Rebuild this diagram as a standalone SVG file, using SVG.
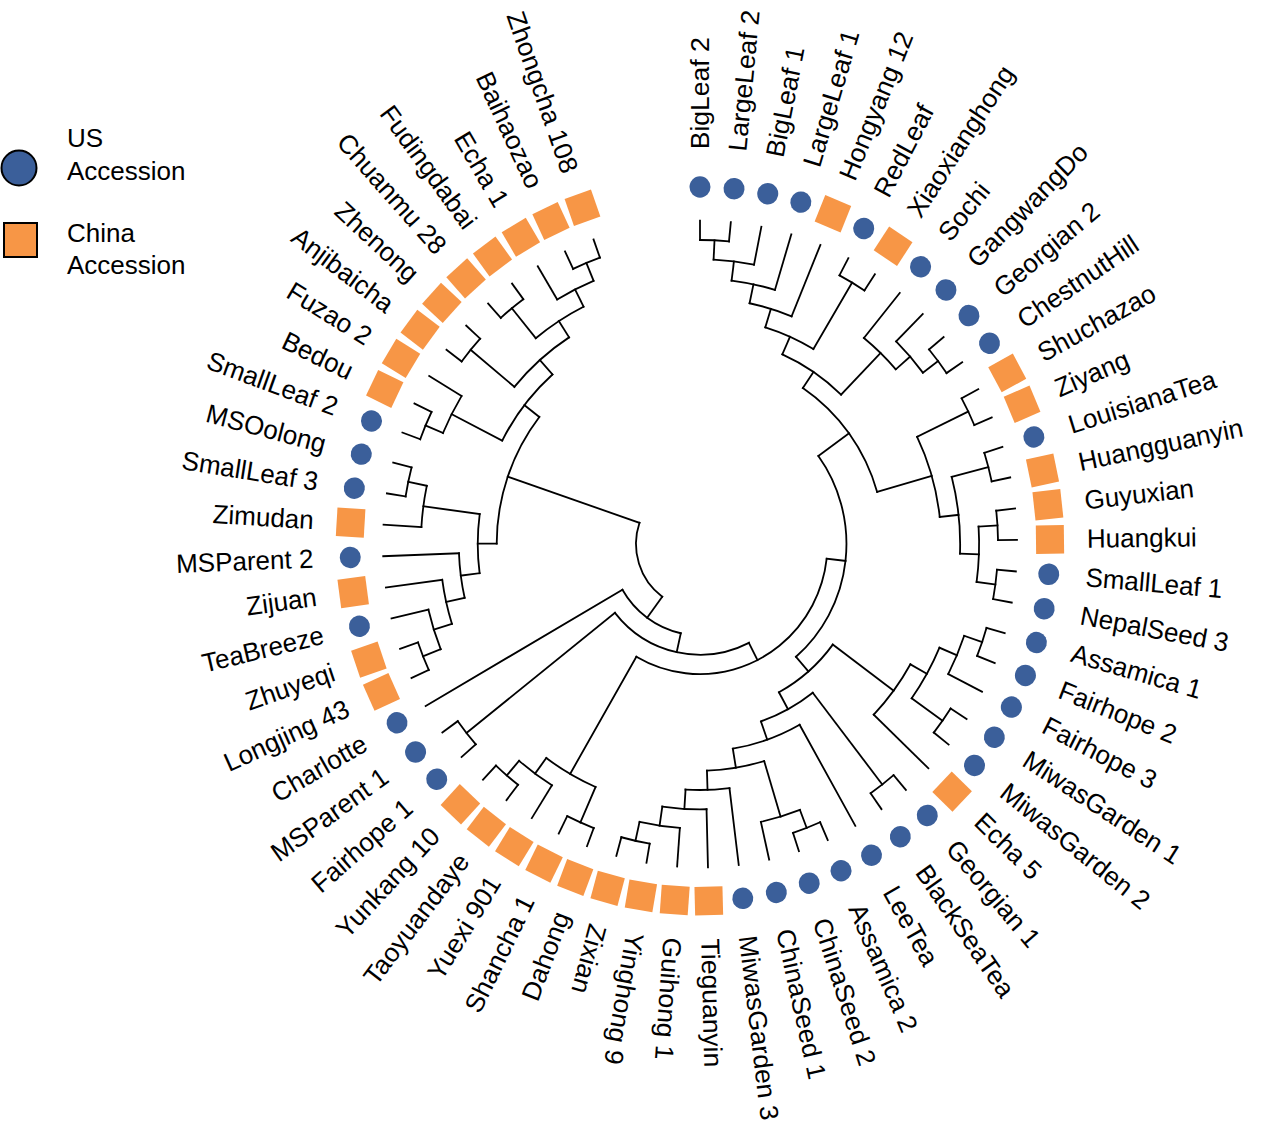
<svg xmlns="http://www.w3.org/2000/svg" width="1264" height="1142" viewBox="0 0 1264 1142">
<style>
.t{font-family:"Liberation Sans",Arial,sans-serif;font-size:26px;fill:#000}
#tree{stroke:#000;stroke-width:1.8;fill:none;stroke-linecap:square}
</style>
<defs>
<circle id="c" r="10.5" fill="#3B5F9A"/>
<rect id="s" x="-14" y="-14" width="28" height="28" fill="#F79646"/>
</defs>
<rect width="1264" height="1142" fill="#fff"/>
<g id="legend">
<circle cx="19" cy="168" r="17.5" fill="#3B5F9A" stroke="#000" stroke-width="2"/>
<text class="t" x="67" y="147">US</text>
<text class="t" x="67" y="180">Accession</text>
<rect x="4" y="223" width="33" height="34" fill="#F79646" stroke="#000" stroke-width="2"/>
<text class="t" x="67" y="242">China</text>
<text class="t" x="67" y="274">Accession</text>
</g>
<g transform="translate(700 544) scale(1 1.02)">
<g id="tree">
<circle r="64" pathLength="360" stroke-dasharray="72.78 720" transform="rotate(126.17)"/>
<path d="M0-64V-89.6" transform="rotate(216.17)"/>
<circle r="89.6" pathLength="360" stroke-dasharray="47.55 720" transform="rotate(102.39)"/>
<path d="M0-89.6V-317" transform="rotate(239.94)"/>
<path d="M0-89.6V-108.55" transform="rotate(192.39)"/>
<circle r="108.55" pathLength="360" stroke-dasharray="78.35 720" transform="rotate(63.22)"/>
<path d="M0-108.55V-298.05" transform="rotate(231.57)"/>
<circle r="298.05" pathLength="360" stroke-dasharray="5.58 720" transform="rotate(138.78)"/>
<path d="M0-298.05V-317" transform="rotate(228.78)"/>
<path d="M0-298.05V-317" transform="rotate(234.36)"/>
<path d="M0-108.55V-127.5" transform="rotate(153.22)"/>
<circle r="127.5" pathLength="360" stroke-dasharray="113.46 720" transform="rotate(6.49)"/>
<path d="M0-127.5V-260.15" transform="rotate(209.95)"/>
<circle r="260.15" pathLength="360" stroke-dasharray="12.56 720" transform="rotate(113.67)"/>
<path d="M0-260.15V-298.05" transform="rotate(203.67)"/>
<circle r="298.05" pathLength="360" stroke-dasharray="5.58 720" transform="rotate(110.88)"/>
<path d="M0-298.05V-317" transform="rotate(200.88)"/>
<path d="M0-298.05V-317" transform="rotate(206.46)"/>
<path d="M0-260.15V-279.1" transform="rotate(216.23)"/>
<circle r="279.1" pathLength="360" stroke-dasharray="8.37 720" transform="rotate(122.04)"/>
<path d="M0-279.1V-317" transform="rotate(212.04)"/>
<path d="M0-279.1V-298.05" transform="rotate(220.41)"/>
<circle r="298.05" pathLength="360" stroke-dasharray="5.58 720" transform="rotate(127.62)"/>
<path d="M0-298.05V-317" transform="rotate(217.62)"/>
<path d="M0-298.05V-317" transform="rotate(223.2)"/>
<path d="M0-127.5V-146.45" transform="rotate(96.49)"/>
<circle r="146.45" pathLength="360" stroke-dasharray="85.11 720" transform="rotate(-36.07)"/>
<path d="M0-146.45V-184.35" transform="rotate(53.93)"/>
<circle r="184.35" pathLength="360" stroke-dasharray="40.02 720" transform="rotate(-56.08)"/>
<path d="M0-184.35V-203.3" transform="rotate(33.92)"/>
<circle r="203.3" pathLength="360" stroke-dasharray="20.05 720" transform="rotate(-66.11)"/>
<path d="M0-203.3V-222.25" transform="rotate(23.89)"/>
<circle r="222.25" pathLength="360" stroke-dasharray="13.6 720" transform="rotate(-72.91)"/>
<path d="M0-222.25V-241.2" transform="rotate(17.09)"/>
<circle r="241.2" pathLength="360" stroke-dasharray="10.46 720" transform="rotate(-78.14)"/>
<path d="M0-241.2V-317" transform="rotate(22.32)"/>
<path d="M0-241.2V-260.15" transform="rotate(11.86)"/>
<circle r="260.15" pathLength="360" stroke-dasharray="9.77 720" transform="rotate(-83.03)"/>
<path d="M0-260.15V-317" transform="rotate(16.74)"/>
<path d="M0-260.15V-279.1" transform="rotate(6.98)"/>
<circle r="279.1" pathLength="360" stroke-dasharray="8.37 720" transform="rotate(-87.21)"/>
<path d="M0-279.1V-317" transform="rotate(11.16)"/>
<path d="M0-279.1V-298.05" transform="rotate(2.79)"/>
<circle r="298.05" pathLength="360" stroke-dasharray="5.58 720" transform="rotate(-90)"/>
<path d="M0-298.05V-317" transform="rotate(0)"/>
<path d="M0-298.05V-317" transform="rotate(5.58)"/>
<path d="M0-222.25V-298.05" transform="rotate(30.69)"/>
<circle r="298.05" pathLength="360" stroke-dasharray="5.58 720" transform="rotate(-62.1)"/>
<path d="M0-298.05V-317" transform="rotate(27.9)"/>
<path d="M0-298.05V-317" transform="rotate(33.48)"/>
<path d="M0-203.3V-260.15" transform="rotate(43.94)"/>
<circle r="260.15" pathLength="360" stroke-dasharray="9.77 720" transform="rotate(-50.94)"/>
<path d="M0-260.15V-317" transform="rotate(39.06)"/>
<path d="M0-260.15V-279.1" transform="rotate(48.83)"/>
<circle r="279.1" pathLength="360" stroke-dasharray="8.37 720" transform="rotate(-45.36)"/>
<path d="M0-279.1V-317" transform="rotate(44.64)"/>
<path d="M0-279.1V-298.05" transform="rotate(53.01)"/>
<circle r="298.05" pathLength="360" stroke-dasharray="5.58 720" transform="rotate(-39.78)"/>
<path d="M0-298.05V-317" transform="rotate(50.22)"/>
<path d="M0-298.05V-317" transform="rotate(55.8)"/>
<path d="M0-184.35V-241.2" transform="rotate(73.94)"/>
<circle r="241.2" pathLength="360" stroke-dasharray="19.53 720" transform="rotate(-25.83)"/>
<path d="M0-241.2V-298.05" transform="rotate(64.17)"/>
<circle r="298.05" pathLength="360" stroke-dasharray="5.58 720" transform="rotate(-28.62)"/>
<path d="M0-298.05V-317" transform="rotate(61.38)"/>
<path d="M0-298.05V-317" transform="rotate(66.96)"/>
<path d="M0-241.2V-260.15" transform="rotate(83.7)"/>
<circle r="260.15" pathLength="360" stroke-dasharray="16.74 720" transform="rotate(-14.67)"/>
<path d="M0-260.15V-298.05" transform="rotate(75.33)"/>
<circle r="298.05" pathLength="360" stroke-dasharray="5.58 720" transform="rotate(-17.46)"/>
<path d="M0-298.05V-317" transform="rotate(72.54)"/>
<path d="M0-298.05V-317" transform="rotate(78.12)"/>
<path d="M0-260.15V-279.1" transform="rotate(92.07)"/>
<circle r="279.1" pathLength="360" stroke-dasharray="11.16 720" transform="rotate(-3.51)"/>
<path d="M0-279.1V-298.05" transform="rotate(86.49)"/>
<circle r="298.05" pathLength="360" stroke-dasharray="5.58 720" transform="rotate(-6.3)"/>
<path d="M0-298.05V-317" transform="rotate(83.7)"/>
<path d="M0-298.05V-317" transform="rotate(89.28)"/>
<path d="M0-279.1V-298.05" transform="rotate(97.65)"/>
<circle r="298.05" pathLength="360" stroke-dasharray="5.58 720" transform="rotate(4.86)"/>
<path d="M0-298.05V-317" transform="rotate(94.86)"/>
<path d="M0-298.05V-317" transform="rotate(100.44)"/>
<path d="M0-146.45V-165.4" transform="rotate(139.04)"/>
<circle r="165.4" pathLength="360" stroke-dasharray="24.89 720" transform="rotate(36.6)"/>
<path d="M0-165.4V-241.2" transform="rotate(126.6)"/>
<circle r="241.2" pathLength="360" stroke-dasharray="14.65 720" transform="rotate(29.27)"/>
<path d="M0-241.2V-317" transform="rotate(133.92)"/>
<path d="M0-241.2V-260.15" transform="rotate(119.27)"/>
<circle r="260.15" pathLength="360" stroke-dasharray="12.56 720" transform="rotate(23)"/>
<path d="M0-260.15V-279.1" transform="rotate(113)"/>
<circle r="279.1" pathLength="360" stroke-dasharray="8.37 720" transform="rotate(18.81)"/>
<path d="M0-279.1V-317" transform="rotate(117.18)"/>
<path d="M0-279.1V-298.05" transform="rotate(108.81)"/>
<circle r="298.05" pathLength="360" stroke-dasharray="5.58 720" transform="rotate(16.02)"/>
<path d="M0-298.05V-317" transform="rotate(106.02)"/>
<path d="M0-298.05V-317" transform="rotate(111.6)"/>
<path d="M0-260.15V-298.05" transform="rotate(125.55)"/>
<circle r="298.05" pathLength="360" stroke-dasharray="5.58 720" transform="rotate(32.76)"/>
<path d="M0-298.05V-317" transform="rotate(122.76)"/>
<path d="M0-298.05V-317" transform="rotate(128.34)"/>
<path d="M0-165.4V-184.35" transform="rotate(151.49)"/>
<circle r="184.35" pathLength="360" stroke-dasharray="18.4 720" transform="rotate(52.29)"/>
<path d="M0-184.35V-298.05" transform="rotate(142.29)"/>
<circle r="298.05" pathLength="360" stroke-dasharray="5.58 720" transform="rotate(49.5)"/>
<path d="M0-298.05V-317" transform="rotate(139.5)"/>
<path d="M0-298.05V-317" transform="rotate(145.08)"/>
<path d="M0-184.35V-203.3" transform="rotate(160.69)"/>
<circle r="203.3" pathLength="360" stroke-dasharray="20.05 720" transform="rotate(60.66)"/>
<path d="M0-203.3V-317" transform="rotate(150.66)"/>
<path d="M0-203.3V-222.25" transform="rotate(170.71)"/>
<circle r="222.25" pathLength="360" stroke-dasharray="15 720" transform="rotate(73.22)"/>
<path d="M0-222.25V-279.1" transform="rotate(163.22)"/>
<circle r="279.1" pathLength="360" stroke-dasharray="8.37 720" transform="rotate(69.03)"/>
<path d="M0-279.1V-317" transform="rotate(167.4)"/>
<path d="M0-279.1V-298.05" transform="rotate(159.03)"/>
<circle r="298.05" pathLength="360" stroke-dasharray="5.58 720" transform="rotate(66.24)"/>
<path d="M0-298.05V-317" transform="rotate(156.24)"/>
<path d="M0-298.05V-317" transform="rotate(161.82)"/>
<path d="M0-222.25V-241.2" transform="rotate(178.21)"/>
<circle r="241.2" pathLength="360" stroke-dasharray="10.46 720" transform="rotate(82.98)"/>
<path d="M0-241.2V-317" transform="rotate(172.98)"/>
<path d="M0-241.2V-260.15" transform="rotate(183.44)"/>
<circle r="260.15" pathLength="360" stroke-dasharray="9.77 720" transform="rotate(88.56)"/>
<path d="M0-260.15V-317" transform="rotate(178.56)"/>
<path d="M0-260.15V-279.1" transform="rotate(188.33)"/>
<circle r="279.1" pathLength="360" stroke-dasharray="8.37 720" transform="rotate(94.14)"/>
<path d="M0-279.1V-317" transform="rotate(184.14)"/>
<path d="M0-279.1V-298.05" transform="rotate(192.51)"/>
<circle r="298.05" pathLength="360" stroke-dasharray="5.58 720" transform="rotate(99.72)"/>
<path d="M0-298.05V-317" transform="rotate(189.72)"/>
<path d="M0-298.05V-317" transform="rotate(195.3)"/>
<path d="M0-64V-203.3" transform="rotate(288.94)"/>
<circle r="203.3" pathLength="360" stroke-dasharray="37.67 720" transform="rotate(180.11)"/>
<path d="M0-203.3V-222.25" transform="rotate(270.11)"/>
<circle r="222.25" pathLength="360" stroke-dasharray="15 720" transform="rotate(172.61)"/>
<path d="M0-222.25V-241.2" transform="rotate(262.61)"/>
<circle r="241.2" pathLength="360" stroke-dasharray="10.46 720" transform="rotate(167.38)"/>
<path d="M0-241.2V-317" transform="rotate(267.84)"/>
<path d="M0-241.2V-260.15" transform="rotate(257.38)"/>
<circle r="260.15" pathLength="360" stroke-dasharray="9.77 720" transform="rotate(162.5)"/>
<path d="M0-260.15V-317" transform="rotate(262.26)"/>
<path d="M0-260.15V-279.1" transform="rotate(252.5)"/>
<circle r="279.1" pathLength="360" stroke-dasharray="8.37 720" transform="rotate(158.31)"/>
<path d="M0-279.1V-317" transform="rotate(256.68)"/>
<path d="M0-279.1V-298.05" transform="rotate(248.31)"/>
<circle r="298.05" pathLength="360" stroke-dasharray="5.58 720" transform="rotate(155.52)"/>
<path d="M0-298.05V-317" transform="rotate(245.52)"/>
<path d="M0-298.05V-317" transform="rotate(251.1)"/>
<path d="M0-222.25V-279.1" transform="rotate(277.61)"/>
<circle r="279.1" pathLength="360" stroke-dasharray="8.37 720" transform="rotate(183.42)"/>
<path d="M0-279.1V-317" transform="rotate(273.42)"/>
<path d="M0-279.1V-298.05" transform="rotate(281.79)"/>
<circle r="298.05" pathLength="360" stroke-dasharray="5.58 720" transform="rotate(189)"/>
<path d="M0-298.05V-317" transform="rotate(279)"/>
<path d="M0-298.05V-317" transform="rotate(284.58)"/>
<path d="M0-203.3V-222.25" transform="rotate(307.77)"/>
<circle r="222.25" pathLength="360" stroke-dasharray="21.27 720" transform="rotate(207.14)"/>
<path d="M0-222.25V-279.1" transform="rotate(297.14)"/>
<circle r="279.1" pathLength="360" stroke-dasharray="8.37 720" transform="rotate(202.95)"/>
<path d="M0-279.1V-317" transform="rotate(301.32)"/>
<path d="M0-279.1V-298.05" transform="rotate(292.95)"/>
<circle r="298.05" pathLength="360" stroke-dasharray="5.58 720" transform="rotate(200.16)"/>
<path d="M0-298.05V-317" transform="rotate(290.16)"/>
<path d="M0-298.05V-317" transform="rotate(295.74)"/>
<path d="M0-222.25V-241.2" transform="rotate(318.41)"/>
<circle r="241.2" pathLength="360" stroke-dasharray="17.44 720" transform="rotate(219.69)"/>
<path d="M0-241.2V-298.05" transform="rotate(309.69)"/>
<circle r="298.05" pathLength="360" stroke-dasharray="5.58 720" transform="rotate(216.9)"/>
<path d="M0-298.05V-317" transform="rotate(306.9)"/>
<path d="M0-298.05V-317" transform="rotate(312.48)"/>
<path d="M0-241.2V-260.15" transform="rotate(327.13)"/>
<circle r="260.15" pathLength="360" stroke-dasharray="12.56 720" transform="rotate(230.85)"/>
<path d="M0-260.15V-298.05" transform="rotate(320.85)"/>
<circle r="298.05" pathLength="360" stroke-dasharray="5.58 720" transform="rotate(228.06)"/>
<path d="M0-298.05V-317" transform="rotate(318.06)"/>
<path d="M0-298.05V-317" transform="rotate(323.64)"/>
<path d="M0-260.15V-279.1" transform="rotate(333.41)"/>
<circle r="279.1" pathLength="360" stroke-dasharray="8.37 720" transform="rotate(239.22)"/>
<path d="M0-279.1V-317" transform="rotate(329.22)"/>
<path d="M0-279.1V-298.05" transform="rotate(337.59)"/>
<circle r="298.05" pathLength="360" stroke-dasharray="5.58 720" transform="rotate(244.8)"/>
<path d="M0-298.05V-317" transform="rotate(334.8)"/>
<path d="M0-298.05V-317" transform="rotate(340.38)"/>
</g>
<g id="leaf1"><use href="#c" transform="rotate(0) translate(0 -350)"/><text class="t" dy="0.33em" transform="rotate(-90) translate(387 0)">BigLeaf 2</text></g>
<g id="leaf2"><use href="#c" transform="rotate(5.58) translate(0 -350)"/><text class="t" dy="0.33em" transform="rotate(-84.42) translate(387 0)">LargeLeaf 2</text></g>
<g id="leaf3"><use href="#c" transform="rotate(11.16) translate(0 -350)"/><text class="t" dy="0.33em" transform="rotate(-78.84) translate(387 0)">BigLeaf 1</text></g>
<g id="leaf4"><use href="#c" transform="rotate(16.74) translate(0 -350)"/><text class="t" dy="0.33em" transform="rotate(-73.26) translate(387 0)">LargeLeaf 1</text></g>
<g id="leaf5"><use href="#s" transform="rotate(22.32) translate(0 -350)"/><text class="t" dy="0.33em" transform="rotate(-67.68) translate(387 0)">Hongyang 12</text></g>
<g id="leaf6"><use href="#c" transform="rotate(27.9) translate(0 -350)"/><text class="t" dy="0.33em" transform="rotate(-62.1) translate(387 0)">RedLeaf</text></g>
<g id="leaf7"><use href="#s" transform="rotate(33.48) translate(0 -350)"/><text class="t" dy="0.33em" transform="rotate(-56.52) translate(387 0)">Xiaoxianghong</text></g>
<g id="leaf8"><use href="#c" transform="rotate(39.06) translate(0 -350)"/><text class="t" dy="0.33em" transform="rotate(-50.94) translate(387 0)">Sochi</text></g>
<g id="leaf9"><use href="#c" transform="rotate(44.64) translate(0 -350)"/><text class="t" dy="0.33em" transform="rotate(-45.36) translate(387 0)">GangwangDo</text></g>
<g id="leaf10"><use href="#c" transform="rotate(50.22) translate(0 -350)"/><text class="t" dy="0.33em" transform="rotate(-39.78) translate(387 0)">Georgian 2</text></g>
<g id="leaf11"><use href="#c" transform="rotate(55.8) translate(0 -350)"/><text class="t" dy="0.33em" transform="rotate(-34.2) translate(387 0)">ChestnutHill</text></g>
<g id="leaf12"><use href="#s" transform="rotate(61.38) translate(0 -350)"/><text class="t" dy="0.33em" transform="rotate(-28.62) translate(387 0)">Shuchazao</text></g>
<g id="leaf13"><use href="#s" transform="rotate(66.96) translate(0 -350)"/><text class="t" dy="0.33em" transform="rotate(-23.04) translate(387 0)">Ziyang</text></g>
<g id="leaf14"><use href="#c" transform="rotate(72.54) translate(0 -350)"/><text class="t" dy="0.33em" transform="rotate(-17.46) translate(387 0)">LouisianaTea</text></g>
<g id="leaf15"><use href="#s" transform="rotate(78.12) translate(0 -350)"/><text class="t" dy="0.33em" transform="rotate(-11.88) translate(387 0)">Huangguanyin</text></g>
<g id="leaf16"><use href="#s" transform="rotate(83.7) translate(0 -350)"/><text class="t" dy="0.33em" transform="rotate(-6.3) translate(387 0)">Guyuxian</text></g>
<g id="leaf17"><use href="#s" transform="rotate(89.28) translate(0 -350)"/><text class="t" dy="0.33em" transform="rotate(-0.72) translate(387 0)">Huangkui</text></g>
<g id="leaf18"><use href="#c" transform="rotate(94.86) translate(0 -350)"/><text class="t" dy="0.33em" transform="rotate(4.86) translate(387 0)">SmallLeaf 1</text></g>
<g id="leaf19"><use href="#c" transform="rotate(100.44) translate(0 -350)"/><text class="t" dy="0.33em" transform="rotate(10.44) translate(387 0)">NepalSeed 3</text></g>
<g id="leaf20"><use href="#c" transform="rotate(106.02) translate(0 -350)"/><text class="t" dy="0.33em" transform="rotate(16.02) translate(387 0)">Assamica 1</text></g>
<g id="leaf21"><use href="#c" transform="rotate(111.6) translate(0 -350)"/><text class="t" dy="0.33em" transform="rotate(21.6) translate(387 0)">Fairhope 2</text></g>
<g id="leaf22"><use href="#c" transform="rotate(117.18) translate(0 -350)"/><text class="t" dy="0.33em" transform="rotate(27.18) translate(387 0)">Fairhope 3</text></g>
<g id="leaf23"><use href="#c" transform="rotate(122.76) translate(0 -350)"/><text class="t" dy="0.33em" transform="rotate(32.76) translate(387 0)">MiwasGarden 1</text></g>
<g id="leaf24"><use href="#c" transform="rotate(128.34) translate(0 -350)"/><text class="t" dy="0.33em" transform="rotate(38.34) translate(387 0)">MiwasGarden 2</text></g>
<g id="leaf25"><use href="#s" transform="rotate(133.92) translate(0 -350)"/><text class="t" dy="0.33em" transform="rotate(43.92) translate(387 0)">Echa 5</text></g>
<g id="leaf26"><use href="#c" transform="rotate(139.5) translate(0 -350)"/><text class="t" dy="0.33em" transform="rotate(49.5) translate(387 0)">Georgian 1</text></g>
<g id="leaf27"><use href="#c" transform="rotate(145.08) translate(0 -350)"/><text class="t" dy="0.33em" transform="rotate(55.08) translate(387 0)">BlackSeaTea</text></g>
<g id="leaf28"><use href="#c" transform="rotate(150.66) translate(0 -350)"/><text class="t" dy="0.33em" transform="rotate(60.66) translate(387 0)">LeeTea</text></g>
<g id="leaf29"><use href="#c" transform="rotate(156.24) translate(0 -350)"/><text class="t" dy="0.33em" transform="rotate(66.24) translate(387 0)">Assamica 2</text></g>
<g id="leaf30"><use href="#c" transform="rotate(161.82) translate(0 -350)"/><text class="t" dy="0.33em" transform="rotate(71.82) translate(387 0)">ChinaSeed 2</text></g>
<g id="leaf31"><use href="#c" transform="rotate(167.4) translate(0 -350)"/><text class="t" dy="0.33em" transform="rotate(77.4) translate(387 0)">ChinaSeed 1</text></g>
<g id="leaf32"><use href="#c" transform="rotate(172.98) translate(0 -350)"/><text class="t" dy="0.33em" transform="rotate(82.98) translate(387 0)">MiwasGarden 3</text></g>
<g id="leaf33"><use href="#s" transform="rotate(178.56) translate(0 -350)"/><text class="t" dy="0.33em" transform="rotate(88.56) translate(387 0)">Tieguanyin</text></g>
<g id="leaf34"><use href="#s" transform="rotate(184.14) translate(0 -350)"/><text class="t" dy="0.33em" transform="rotate(94.14) translate(387 0)">Guihong 1</text></g>
<g id="leaf35"><use href="#s" transform="rotate(189.72) translate(0 -350)"/><text class="t" dy="0.33em" transform="rotate(99.72) translate(387 0)">Yinghong 9</text></g>
<g id="leaf36"><use href="#s" transform="rotate(195.3) translate(0 -350)"/><text class="t" dy="0.33em" transform="rotate(105.3) translate(387 0)">Zixian</text></g>
<g id="leaf37"><use href="#s" transform="rotate(200.88) translate(0 -350)"/><text class="t" dy="0.33em" text-anchor="end" transform="rotate(290.88) translate(-387 0)">Dahong</text></g>
<g id="leaf38"><use href="#s" transform="rotate(206.46) translate(0 -350)"/><text class="t" dy="0.33em" text-anchor="end" transform="rotate(296.46) translate(-387 0)">Shancha 1</text></g>
<g id="leaf39"><use href="#s" transform="rotate(212.04) translate(0 -350)"/><text class="t" dy="0.33em" text-anchor="end" transform="rotate(302.04) translate(-387 0)">Yuexi 901</text></g>
<g id="leaf40"><use href="#s" transform="rotate(217.62) translate(0 -350)"/><text class="t" dy="0.33em" text-anchor="end" transform="rotate(307.62) translate(-387 0)">Taoyuandaye</text></g>
<g id="leaf41"><use href="#s" transform="rotate(223.2) translate(0 -350)"/><text class="t" dy="0.33em" text-anchor="end" transform="rotate(313.2) translate(-387 0)">Yunkang 10</text></g>
<g id="leaf42"><use href="#c" transform="rotate(228.78) translate(0 -350)"/><text class="t" dy="0.33em" text-anchor="end" transform="rotate(318.78) translate(-387 0)">Fairhope 1</text></g>
<g id="leaf43"><use href="#c" transform="rotate(234.36) translate(0 -350)"/><text class="t" dy="0.33em" text-anchor="end" transform="rotate(324.36) translate(-387 0)">MSParent 1</text></g>
<g id="leaf44"><use href="#c" transform="rotate(239.94) translate(0 -350)"/><text class="t" dy="0.33em" text-anchor="end" transform="rotate(329.94) translate(-387 0)">Charlotte</text></g>
<g id="leaf45"><use href="#s" transform="rotate(245.52) translate(0 -350)"/><text class="t" dy="0.33em" text-anchor="end" transform="rotate(335.52) translate(-387 0)">Longjing 43</text></g>
<g id="leaf46"><use href="#s" transform="rotate(251.1) translate(0 -350)"/><text class="t" dy="0.33em" text-anchor="end" transform="rotate(341.1) translate(-387 0)">Zhuyeqi</text></g>
<g id="leaf47"><use href="#c" transform="rotate(256.68) translate(0 -350)"/><text class="t" dy="0.33em" text-anchor="end" transform="rotate(346.68) translate(-387 0)">TeaBreeze</text></g>
<g id="leaf48"><use href="#s" transform="rotate(262.26) translate(0 -350)"/><text class="t" dy="0.33em" text-anchor="end" transform="rotate(352.26) translate(-387 0)">Zijuan</text></g>
<g id="leaf49"><use href="#c" transform="rotate(267.84) translate(0 -350)"/><text class="t" dy="0.33em" text-anchor="end" transform="rotate(357.84) translate(-387 0)">MSParent 2</text></g>
<g id="leaf50"><use href="#s" transform="rotate(273.42) translate(0 -350)"/><text class="t" dy="0.33em" text-anchor="end" transform="rotate(363.42) translate(-387 0)">Zimudan</text></g>
<g id="leaf51"><use href="#c" transform="rotate(279) translate(0 -350)"/><text class="t" dy="0.33em" text-anchor="end" transform="rotate(369) translate(-387 0)">SmallLeaf 3</text></g>
<g id="leaf52"><use href="#c" transform="rotate(284.58) translate(0 -350)"/><text class="t" dy="0.33em" text-anchor="end" transform="rotate(374.58) translate(-387 0)">MSOolong</text></g>
<g id="leaf53"><use href="#c" transform="rotate(290.16) translate(0 -350)"/><text class="t" dy="0.33em" text-anchor="end" transform="rotate(380.16) translate(-387 0)">SmallLeaf 2</text></g>
<g id="leaf54"><use href="#s" transform="rotate(295.74) translate(0 -350)"/><text class="t" dy="0.33em" text-anchor="end" transform="rotate(385.74) translate(-387 0)">Bedou</text></g>
<g id="leaf55"><use href="#s" transform="rotate(301.32) translate(0 -350)"/><text class="t" dy="0.33em" text-anchor="end" transform="rotate(391.32) translate(-387 0)">Fuzao 2</text></g>
<g id="leaf56"><use href="#s" transform="rotate(306.9) translate(0 -350)"/><text class="t" dy="0.33em" text-anchor="end" transform="rotate(396.9) translate(-387 0)">Anjibaicha</text></g>
<g id="leaf57"><use href="#s" transform="rotate(312.48) translate(0 -350)"/><text class="t" dy="0.33em" text-anchor="end" transform="rotate(402.48) translate(-387 0)">Zhenong</text></g>
<g id="leaf58"><use href="#s" transform="rotate(318.06) translate(0 -350)"/><text class="t" dy="0.33em" text-anchor="end" transform="rotate(408.06) translate(-387 0)">Chuanmu 28</text></g>
<g id="leaf59"><use href="#s" transform="rotate(323.64) translate(0 -350)"/><text class="t" dy="0.33em" text-anchor="end" transform="rotate(413.64) translate(-387 0)">Fudingdabai</text></g>
<g id="leaf60"><use href="#s" transform="rotate(329.22) translate(0 -350)"/><text class="t" dy="0.33em" text-anchor="end" transform="rotate(419.22) translate(-387 0)">Echa 1</text></g>
<g id="leaf61"><use href="#s" transform="rotate(334.8) translate(0 -350)"/><text class="t" dy="0.33em" text-anchor="end" transform="rotate(424.8) translate(-387 0)">Baihaozao</text></g>
<g id="leaf62"><use href="#s" transform="rotate(340.38) translate(0 -350)"/><text class="t" dy="0.33em" text-anchor="end" transform="rotate(430.38) translate(-387 0)">Zhongcha 108</text></g>
</g>
</svg>
